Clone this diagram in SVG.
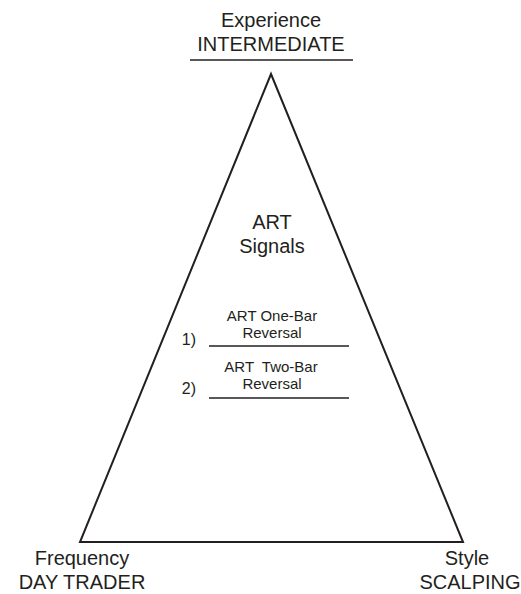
<svg xmlns="http://www.w3.org/2000/svg" width="521" height="594" viewBox="0 0 521 594">
<style>
text{font-family:"Liberation Sans",Arial,sans-serif;fill:#231f20;text-anchor:middle}
.lg{font-size:20px}
.md{font-size:20px}
.sm{font-size:15px}
.num{font-size:16px;text-anchor:end}
.ln{stroke:#231f20;stroke-width:1.3;fill:none}
</style>
<rect width="521" height="594" fill="#fff"/>
<g id="triangle">
<polygon points="271,74 80,542 463,542" fill="none" stroke="#231f20" stroke-width="2"/>
</g>
<g id="top">
<text class="lg" x="271" y="27">Experience</text>
<text class="lg" x="271" y="51">INTERMEDIATE</text>
<line class="ln" x1="190" y1="60" x2="353" y2="60"/>
</g>
<g id="center">
<text class="md" x="272" y="229">ART</text>
<text class="md" x="272" y="253">Signals</text>
</g>
<g id="item1">
<text class="sm" x="272" y="321">ART One-Bar</text>
<text class="sm" x="272" y="338">Reversal</text>
<text class="num" x="196" y="345">1)</text>
<line class="ln" x1="209" y1="346" x2="349" y2="346"/>
</g>
<g id="item2">
<text class="sm" x="271" y="372" xml:space="preserve">ART  Two-Bar</text>
<text class="sm" x="272" y="389">Reversal</text>
<text class="num" x="196" y="394">2)</text>
<line class="ln" x1="209" y1="398" x2="349" y2="398"/>
</g>
<g id="left">
<text class="lg" x="82" y="565">Frequency</text>
<text class="lg" x="82" y="589">DAY TRADER</text>
</g>
<g id="right">
<text class="lg" x="467" y="565">Style</text>
<text class="lg" x="470" y="589">SCALPING</text>
</g>
<g id="connectors"></g>
</svg>
